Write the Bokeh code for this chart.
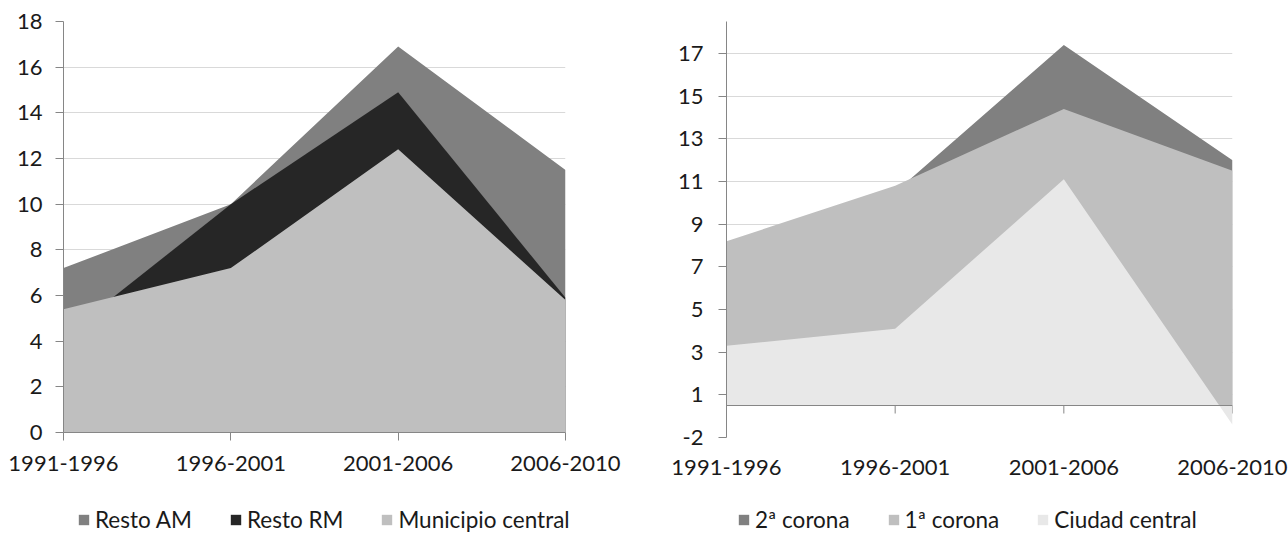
from bokeh.plotting import figure
from bokeh.models import Range1d, FixedTicker, Legend, LegendItem, Span
from bokeh.layouts import row, column
from bokeh.embed import file_html
from bokeh.resources import INLINE

periods = ["1991-1996", "1996-2001", "2001-2006", "2006-2010"]

# Left chart
resto_am = [7.2, 10.0, 16.9, 11.5]
resto_rm = [4.2, 10.0, 14.9, 5.9]
municipio_central = [5.4, 7.2, 12.4, 5.8]

# Right chart
segunda_corona = [7.5, 10.5, 17.4, 12.0]
primera_corona = [8.2, 10.8, 14.4, 11.5]
ciudad_central = [3.3, 4.1, 11.1, -0.4]

left_ticks = [0, 2, 4, 6, 8, 10, 12, 14, 16, 18]
right_ticks = [-1, 1, 3, 5, 7, 9, 11, 13, 15, 17]
right_tick_labels = ["-2", "1", "3", "5", "7", "9", "11", "13", "15", "17"]

left_names = ["Resto AM", "Resto RM", "Municipio central"]
right_names = ["2ª corona", "1ª corona", "Ciudad central"]
left_colors = ["#808080", "#262626", "#bfbfbf"]
right_colors = ["#808080", "#bfbfbf", "#e8e8e8"]

FONT = "Lato"
TXT = "#1a1a1a"
AXIS = "#868686"
GRID = "#d9d9d9"

xs = list(range(len(periods)))
labels = {i: s for i, s in enumerate(periods)}


def base(fw, fh, ymin, ymax, bl, br, bt, bb):
    p = figure(frame_width=fw, frame_height=fh, output_backend="svg", toolbar_location=None,
               x_range=Range1d(0, len(periods) - 1), y_range=Range1d(ymin, ymax),
               min_border_left=bl, min_border_right=br, min_border_top=bt, min_border_bottom=bb)
    p.outline_line_color = None
    p.background_fill_color = "white"
    p.border_fill_color = "white"
    p.xgrid.grid_line_color = None
    p.ygrid.grid_line_color = GRID
    p.ygrid.grid_line_width = 1
    for ax in (p.xaxis[0], p.yaxis[0]):
        ax.axis_line_color = AXIS
        ax.major_tick_line_color = AXIS
        ax.minor_tick_line_color = None
        ax.major_tick_in = 0
        ax.major_label_text_font = FONT
        ax.major_label_text_font_size = "22px"
        ax.major_label_text_color = TXT
    p.xaxis.ticker = FixedTicker(ticks=xs)
    p.xaxis.major_label_overrides = labels
    return p


def legend_figure(names, colors, dx):
    lf = figure(width=644, height=47, output_backend="svg", toolbar_location=None,
                x_range=Range1d(0, 1), y_range=Range1d(0, 1),
                x_axis_type=None, y_axis_type=None,
                min_border_left=0, min_border_right=0, min_border_top=0, min_border_bottom=0)
    lf.outline_line_color = None
    lf.xgrid.grid_line_color = None
    lf.ygrid.grid_line_color = None
    items = []
    for name, col in zip(names, colors):
        # zero-height area: invisible in the frame, but gives the legend its swatch
        r = lf.varea(x=[0, 1], y1=[0, 0], y2=[0, 0], fill_color=col)
        items.append(LegendItem(label=name, renderers=[r], index=0))
    leg = Legend(items=items, orientation="horizontal", location=(dx, 1), margin=0,
                 padding=0, spacing=37, label_standoff=5, glyph_width=13, glyph_height=13,
                 label_height=20, border_line_color=None, background_fill_alpha=0,
                 label_text_font=FONT, label_text_font_size="22.5px", label_text_color=TXT)
    lf.add_layout(leg, "center")
    return lf


# ---------------- Left figure ----------------
p1 = base(502, 411, 0, 18, 63, 79, 21, 55)
p1.yaxis.ticker = FixedTicker(ticks=left_ticks)
p1.ygrid.ticker = FixedTicker(ticks=left_ticks)
p1.yaxis.major_tick_out = 8
p1.yaxis.major_label_standoff = 13
p1.xaxis.major_tick_out = 8
p1.xaxis.major_label_standoff = 15

p1.varea(x=xs, y1=0, y2=resto_am, fill_color=left_colors[0])
p1.varea(x=xs, y1=0, y2=resto_rm, fill_color=left_colors[1])
p1.varea(x=xs, y1=0, y2=municipio_central, fill_color=left_colors[2])

# ---------------- Right figure ----------------
p2 = base(506, 416, -1, 18.5, 82, 56, 21, 50)
p2.yaxis.ticker = FixedTicker(ticks=right_ticks)
p2.ygrid.ticker = FixedTicker(ticks=right_ticks)
p2.yaxis.major_label_overrides = {t: s for t, s in zip(right_ticks, right_tick_labels)}
p2.yaxis.major_tick_out = 8
p2.yaxis.major_label_standoff = 15
p2.xaxis.axis_line_color = None
p2.xaxis.major_tick_line_color = None
p2.xaxis.major_tick_out = 0
p2.xaxis.major_label_standoff = 22

cross = 0.5
p2.varea(x=xs, y1=cross, y2=segunda_corona, fill_color=right_colors[0])
p2.varea(x=xs, y1=cross, y2=primera_corona, fill_color=right_colors[1])
p2.varea(x=xs, y1=cross, y2=ciudad_central, fill_color=right_colors[2])

p2.add_layout(Span(location=cross, dimension="width", line_color=AXIS, line_width=1))
tick_len = 8 / (416 / 19.5)
p2.segment(x0=xs, y0=[cross] * len(xs), x1=xs, y1=[cross - tick_len] * len(xs),
           line_color=AXIS, line_width=1)

l1 = legend_figure(left_names, left_colors, 77)
l2 = legend_figure(right_names, right_colors, 93)

layout = column(row(p1, p2), row(l1, l2))
open("out.html", "w").write(file_html(layout, INLINE))
